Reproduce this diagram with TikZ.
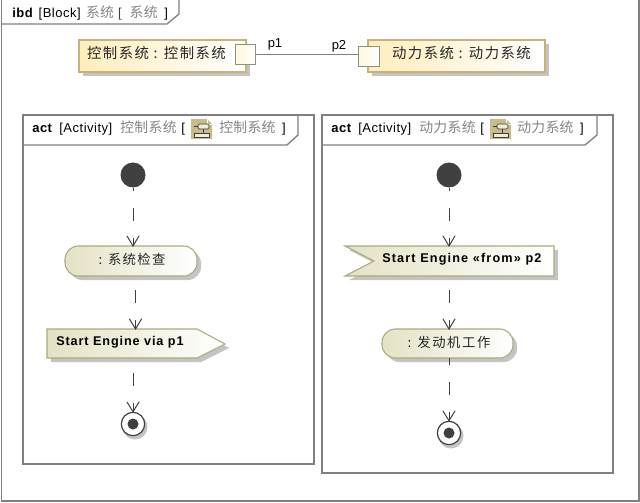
\documentclass[tikz,border=0pt]{standalone}
\usepackage{fontspec}
\setmainfont{Liberation Sans}
\newfontfamily\cjk{Noto Sans CJK SC}
\usetikzlibrary{arrows.meta}
\definecolor{frameline}{HTML}{808080}
\definecolor{blockedge}{HTML}{C4B478}
\definecolor{blockleft}{HTML}{FFEDBC}
\definecolor{actedge}{HTML}{ACAA7C}
\definecolor{actleft}{HTML}{E4E2C4}
\definecolor{portleft}{HTML}{FFF8DC}
\definecolor{portedge}{HTML}{88947C}
\definecolor{shadowc}{HTML}{C4C4C4}
\definecolor{darkdot}{HTML}{404040}
\definecolor{greytext}{HTML}{858585}
\definecolor{icontan}{HTML}{C8BC88}
\tikzset{
  x=0.75pt,y=-0.75pt,
  frameb/.style={draw=frameline,line width=1.1pt,fill=white},
  tabline/.style={draw=frameline,line width=1pt},
  blockfill/.style={left color=blockleft,right color=white,draw=blockedge,line width=0.8pt},
  actfill/.style={left color=actleft,right color=white,draw=actedge,line width=0.8pt},
  portbox/.style={left color=portleft,right color=white,draw=portedge,line width=0.8pt,minimum size=15.5pt,inner sep=0pt,rectangle},
  flow/.style={draw=darkdot,line width=0.75pt,dash pattern=on 9.75pt off 12.75pt,dash phase=#1},
  tip/.style={draw=darkdot,line width=0.75pt,line cap=round},
  startdot/.style={circle,fill=darkdot,draw=none,minimum size=18.75pt,inner sep=0pt},
  finalring/.style={circle,fill=white,draw=darkdot,line width=0.9pt,minimum size=17.5pt,inner sep=0pt},
  finaldot/.style={circle,fill=darkdot,minimum size=8.25pt,inner sep=0pt},
  lbl/.style={inner sep=0pt,font=\fontsize{9.75}{11}\selectfont},
  boldlbl/.style={inner sep=0pt,font=\fontsize{9.5}{11}\selectfont\bfseries},
  tabtxt/.style={inner sep=0pt,anchor=west,font=\fontsize{9.75}{11}\selectfont\addfontfeature{LetterSpace=4}},
  blocktxt/.style={inner sep=0pt,text=black!85,font=\cjk\fontsize{10.8}{12}\selectfont},
}
\newcommand{\gc}[1]{{\cjk\fontsize{10.4}{11}\selectfont\addfontfeature{LetterSpace=2}\color{greytext}#1}}
\newcommand{\tabicon}[2]{%
  \fill[icontan] (#1,#2) -- ++(16,0) -- ++(5,5) -- ++(0,15) -- ++(-21,0) -- cycle;
  \draw[white,line width=0.5pt] (#1+16,#2) -- ++(0,5) -- ++(5,0);
  \draw[darkdot,line width=0.45pt,fill=white!70!icontan,rounded corners=1pt] (#1+7,#2+5) rectangle ++(11,5);
  \draw[darkdot,line width=0.45pt] (#1+3,#2+7.5) -- (#1+7,#2+7.5) (#1+12,#2+10) -- (#1+12,#2+14);
  \draw[darkdot,line width=0.45pt,fill=white!70!icontan] (#1+3,#2+14) rectangle ++(15,4);
}
\begin{document}
\begin{tikzpicture}
\useasboundingbox (0,0) rectangle (640,503);
\fill[white] (0,0) rectangle (640,503);
% outer frame
\draw[frameb] (1.5,-1) rectangle (639,501);
\draw[tabline] (1.5,24) -- (167,24) -- (179,14) -- (179,-1);
\node[tabtxt] (t0) at (12,13) {\textbf{ibd}\hspace{4pt}[Block]\hspace{4pt}\gc{系统}\hspace{3pt}{\color{greytext!50!black}[}\hspace{6pt}\gc{系统}\hspace{5pt}]};
% activity frames
\draw[frameb] (23,115) rectangle (314,464);
\draw[tabline] (23,145) -- (287,145) -- (298,135) -- (298,115);
\node[tabtxt] (t1) at (32,128) {\textbf{act}\hspace{5pt}[Activity]\hspace{6pt}\gc{控制系统}\hspace{3.5pt}[};
\tabicon{191}{119}
\node[tabtxt] (t1b) at (219,128) {\gc{控制系统}\hspace{5pt}]};
\draw[frameb] (322,115) rectangle (613,473);
\draw[tabline] (322,145) -- (585,145) -- (597,135) -- (597,115);
\node[tabtxt] (t2) at (331,128) {\textbf{act}\hspace{5pt}[Activity]\hspace{6pt}\gc{动力系统}\hspace{3.5pt}[};
\tabicon{490}{119}
\node[tabtxt] (t2b) at (517,128) {\gc{动力系统}\hspace{5pt}]};
% blocks
\fill[shadowc] (83,44) rectangle (250,76);
\path[blockfill] (79,40) rectangle (246,72);
\node[blocktxt] (b1) at (156.5,53) {\addfontfeature{LetterSpace=10}控制系统 : 控制系统};
\fill[shadowc] (372,44) rectangle (549,76);
\path[blockfill] (368,40) rectangle (545,72);
\node[blocktxt] (b2) at (461.5,53) {\addfontfeature{LetterSpace=10}动力系统 : 动力系统};
\node[portbox] (p1) at (245.5,54.5) {};
\node[portbox] (p2) at (369,56.5) {};
\draw[frameline,line width=1.4pt] (p1.east) -- (p1.east -| p2.west);
\node[lbl] (p1l) at (275,44) {p1};
\node[lbl] (p2l) at (339,46) {p2};
% left activity
\node[startdot] (s1) at (133,175) {};
\fill[shadowc,rounded corners=10pt] (69,250) rectangle (201,280);
\path[actfill,rounded corners=10pt] (65,246) rectangle (197,276);
\node[blocktxt,font=\cjk\fontsize{10}{11}\selectfont] (a1) at (132,259) {\addfontfeature{LetterSpace=10}: 系统检查};
\fill[shadowc] (51,333) -- (201,333) -- (229,348) -- (201,362) -- (51,362) -- cycle;
\path[actfill] (47,329) -- (197,329) -- (225,344) -- (197,358) -- (47,358) -- cycle;
\node[boldlbl,anchor=west] (a2) at (56,342) {\addfontfeature{LetterSpace=7}Start Engine via p1};
\coordinate (a2top) at (135.5,329);
\coordinate (a2bot) at (133,358);
\coordinate (a1top) at (133,246);
\coordinate (a1bot) at (135.5,276);
\fill[shadowc] (135,427) circle (12.5);
\node[finalring] (f1) at (133,424) {};
\node[finaldot] at (f1) {};
\draw[flow=7.5pt] (s1.south) -- (a1top);
\draw[tip] (127,236) -- (a1top) -- (139,236);
\draw[flow=12pt] (a1bot) -- (a2top);
\draw[tip] (129.5,319) -- (a2top) -- (141.5,319);
\draw[flow=11.25pt] (a2bot) -- (f1.north);
\draw[tip] (127,402) -- (f1.north) -- (139,402);
% right activity
\node[startdot] (s2) at (449,175) {};
\fill[shadowc] (349,250) -- (558,250) -- (558,280) -- (349,280) -- (378,265) -- cycle;
\path[actfill] (345,246) -- (554,246) -- (554,276) -- (345,276) -- (374,261) -- cycle;
\node[boldlbl,anchor=west] (a3) at (382,259) {\addfontfeature{LetterSpace=9}Start Engine «from» p2};
\coordinate (a3top) at (449,246);
\coordinate (a3bot) at (449,276);
\fill[shadowc,rounded corners=10pt] (386,333) rectangle (517,362);
\path[actfill,rounded corners=10pt] (382,329) rectangle (513,358);
\node[blocktxt,font=\cjk\fontsize{10}{11}\selectfont] (a4) at (449,342) {\addfontfeature{LetterSpace=12}: 发动机工作};
\coordinate (a4top) at (449,329);
\coordinate (a4bot) at (449,358);
\fill[shadowc] (451,436) circle (12.5);
\node[finalring] (f2) at (449,433) {};
\node[finaldot] at (f2) {};
\draw[flow=7.5pt] (s2.south) -- (a3top);
\draw[tip] (443,236) -- (a3top) -- (455,236);
\draw[flow=12pt] (a3bot) -- (a4top);
\draw[tip] (443,319) -- (a4top) -- (455,319);
\draw[flow=4.5pt] (a4bot) -- (f2.north);
\draw[tip] (443,411) -- (f2.north) -- (455,411);
\end{tikzpicture}
\end{document}
